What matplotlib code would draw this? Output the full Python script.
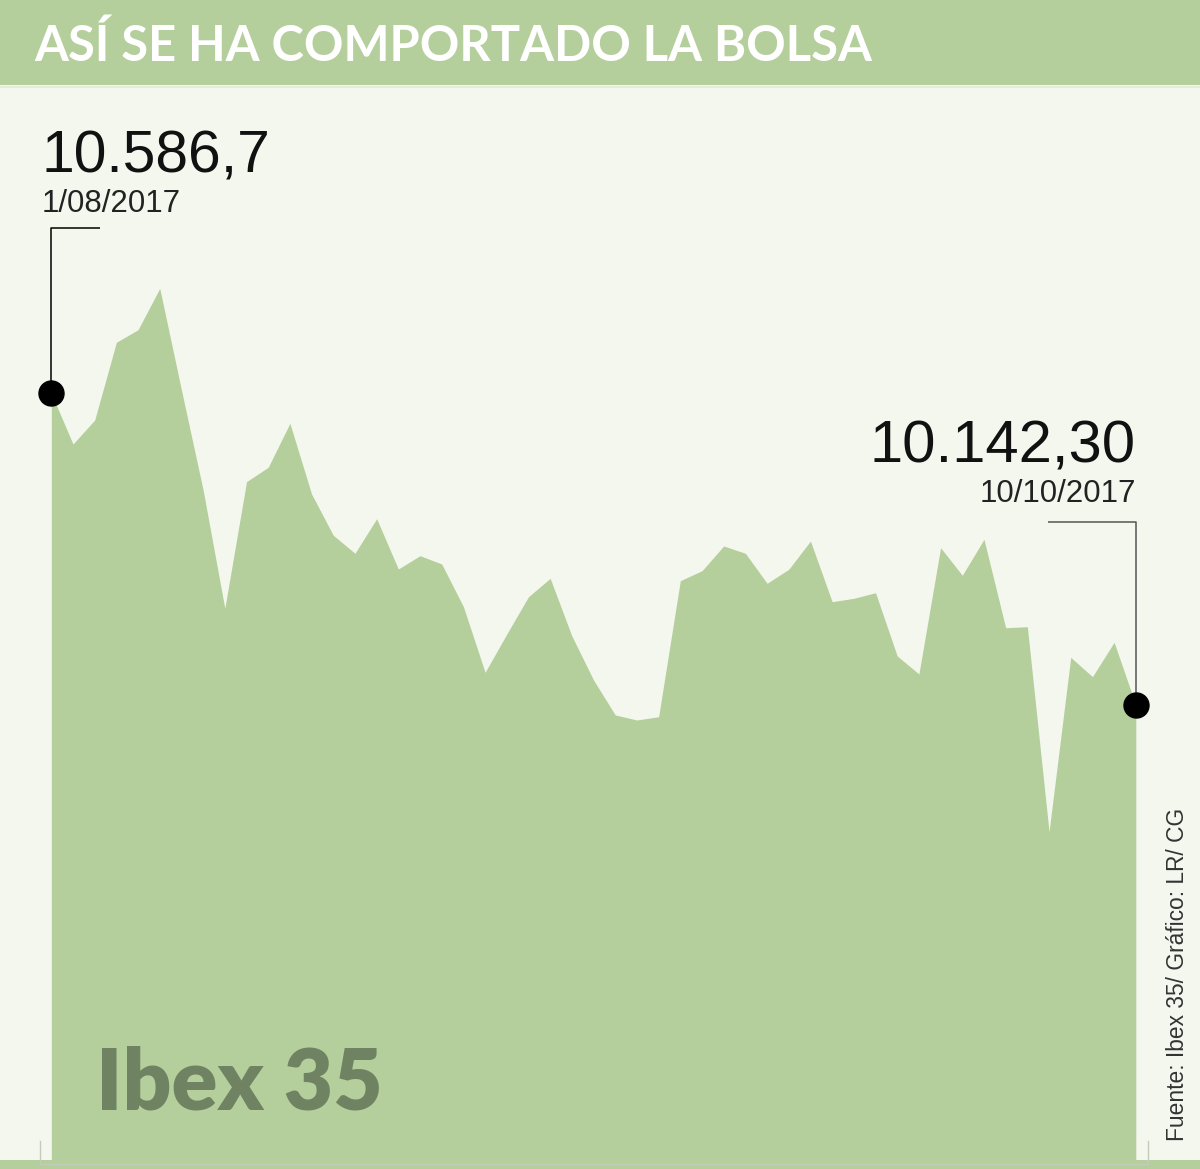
import matplotlib
matplotlib.use("Agg")
import matplotlib.pyplot as plt
from matplotlib.patches import Rectangle
from matplotlib.lines import Line2D

# ---------------- data ----------------
sessions = list(range(51))  # trading sessions 1/08/2017 .. 10/10/2017
ibex_values = [
    10586.7, 10514.4, 10548.6, 10659.4, 10677.4, 10736.4, 10591.4, 10448.8,
    10280.2, 10460.7, 10481.2, 10543.9, 10443.1, 10384.3, 10358.6, 10407.9,
    10336.2, 10355.2, 10343.3, 10282.5, 10188.9, 10243.5, 10296.7, 10322.9,
    10240.7, 10177.9, 10128.1, 10120.9, 10125.6, 10319.5, 10333.8, 10369.0,
    10358.6, 10315.8, 10335.8, 10376.1, 10289.6, 10294.4, 10302.4, 10212.2,
    10186.5, 10366.6, 10327.2, 10378.5, 10252.5, 10253.9, 9961.7, 10210.3,
    10182.7, 10231.7, 10142.3,
]
first_label = "10.586,7"
first_date = "1/08/2017"
last_label = "10.142,30"
last_date = "10/10/2017"
title = "ASÍ SE HA COMPORTADO LA BOLSA"
index_name = "Ibex 35"
source = "Fuente: Ibex 35/ Gráfico: LR/ CG"

# ---------------- styling ----------------
W, H = 1200, 1169
BG = "#f4f7ee"
GREEN = "#b4cf9c"
DARK_GREEN = "#6f8262"

def fx(px):
    return px / W

def fy(py):
    return 1 - py / H

fig = plt.figure(figsize=(W / 100, H / 100), dpi=100, facecolor=BG)

# header band
fig.patches.append(Rectangle((0, fy(85)), 1, 85 / H, transform=fig.transFigure,
                             facecolor=GREEN, edgecolor="none", zorder=0))
fig.lines.append(Line2D([0, 1], [fy(86.5), fy(86.5)], transform=fig.transFigure,
                        color="#e6ecdc", lw=1.5, zorder=1))
# bottom stripe
fig.patches.append(Rectangle((0, 0), 1, (H - 1160) / H, transform=fig.transFigure,
                             facecolor=GREEN, edgecolor="none", zorder=0))
# thin frame marks at the bottom
frame_col = "#c3cbbb"
fig.lines.append(Line2D([fx(40), fx(1148)], [fy(1164), fy(1164)], transform=fig.transFigure,
                        color=frame_col, lw=1, zorder=5))
for xx in (40, 1148):
    fig.lines.append(Line2D([fx(xx), fx(xx)], [fy(1141), fy(1164)], transform=fig.transFigure,
                            color=frame_col, lw=1, zorder=5))

# chart axes
ax = fig.add_axes([fx(51.3), fy(1160), (1135.8 - 51.3) / W, (1160 - 86) / H])
ax.set_facecolor("none")
ax.set_xlim(0, len(sessions) - 1)
ax.set_ylim(9493.6, 11024.8)
ax.axis("off")

ax.fill_between(sessions, ibex_values, 9493.6, color=GREEN, linewidth=0, zorder=1)

# markers
ax.plot([sessions[0]], [ibex_values[0]], "o", ms=18, color="black", clip_on=False, zorder=4)
ax.plot([sessions[-1]], [ibex_values[-1]], "o", ms=18, color="black", clip_on=False, zorder=4)

# connector lines
ax.plot([sessions[0], sessions[0], 2.25], [ibex_values[0], 10822.4, 10822.4],
        color="black", lw=1.1, clip_on=False, zorder=3, solid_capstyle="butt")
ax.plot([45.94, sessions[-1], sessions[-1]], [10403.6, 10403.6, ibex_values[-1]],
        color="#555555", lw=1.1, clip_on=False, zorder=3, solid_capstyle="butt")

# texts
fig.text(fx(34), fy(61), title, color="white", fontsize=35.2, fontweight="bold",
         family="Lato", ha="left", va="baseline")
fig.text(fx(41), fy(172), first_label, color="#111111", fontsize=42.3,
         family="Liberation Sans", ha="left", va="baseline")
fig.text(fx(42), fy(212), first_date, color="#222222", fontsize=22.5,
         family="Liberation Sans", ha="left", va="baseline")
fig.text(fx(1136), fy(462), last_label, color="#111111", fontsize=43,
         family="Liberation Sans", ha="right", va="baseline")
fig.text(fx(1136), fy(502), last_date, color="#222222", fontsize=22.5,
         family="Liberation Sans", ha="right", va="baseline")
fig.text(fx(96), fy(1109), index_name, color=DARK_GREEN, fontsize=61.5, fontweight="heavy",
         family="Lato", ha="left", va="baseline")
fig.text(fx(1177), fy(1141), source, color="#333333", fontsize=16.4, rotation=90,
         family="Liberation Sans", ha="center", va="bottom")

fig.savefig("out.png", dpi=100, facecolor=BG)
